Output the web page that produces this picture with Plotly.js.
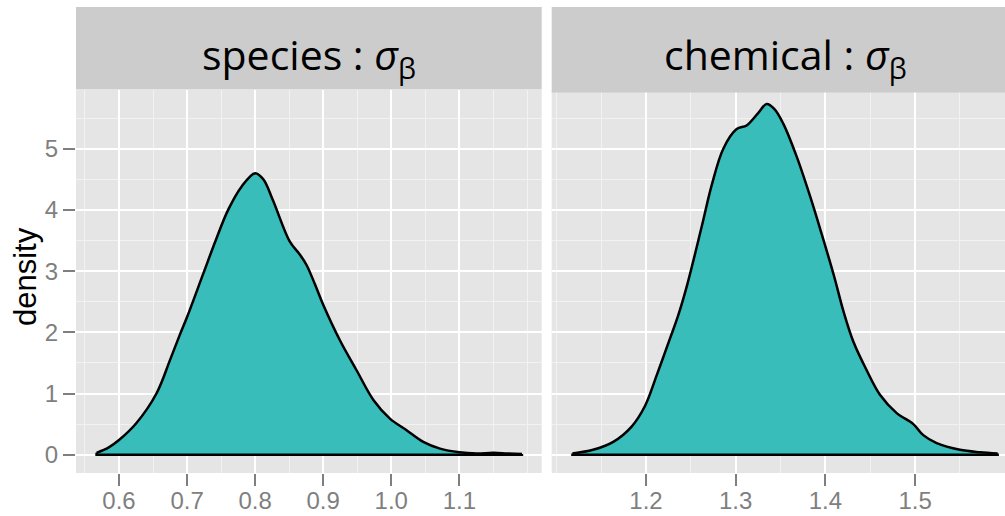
<!DOCTYPE html>
<html>
<head>
<meta charset="utf-8">
<script src="https://cdn.plot.ly/plotly-3.0.1.min.js"></script>
<style>html,body{margin:0;padding:0;background:#fff}</style>
</head>
<body>
<div id="chart" style="width:1005px;height:516px"></div>
<script>
// species : sigma_beta density
const speciesX = [0.567, 0.585, 0.600, 0.625, 0.655, 0.675, 0.689, 0.700, 0.7235, 0.742, 0.7603, 0.780, 0.800, 0.812, 0.826, 0.851, 0.865, 0.8755, 0.888, 0.900, 0.9245, 0.949, 0.974, 0.998, 1.0225, 1.047, 1.0716, 1.100, 1.125, 1.150, 1.170, 1.192];
const speciesY = [0.03, 0.12, 0.24, 0.51, 1.00, 1.55, 1.95, 2.25, 2.95, 3.50, 4.00, 4.38, 4.60, 4.50, 4.16, 3.48, 3.28, 3.10, 2.78, 2.45, 1.87, 1.38, 0.89, 0.59, 0.40, 0.21, 0.10, 0.04, 0.02, 0.03, 0.02, 0.01];
// chemical : sigma_beta density
const chemicalX = [1.118, 1.141, 1.1635, 1.184, 1.199, 1.212, 1.2268, 1.236, 1.246, 1.262, 1.2732, 1.2862, 1.3011, 1.3122, 1.325, 1.3345, 1.343, 1.353, 1.368, 1.383, 1.396, 1.410, 1.420, 1.4311, 1.446, 1.4608, 1.4795, 1.498, 1.5091, 1.524, 1.550, 1.5724, 1.592];
const chemicalY = [0.02, 0.08, 0.21, 0.46, 0.80, 1.30, 1.90, 2.28, 2.78, 3.72, 4.40, 5.00, 5.32, 5.38, 5.58, 5.73, 5.65, 5.41, 4.87, 4.22, 3.60, 2.90, 2.35, 1.85, 1.38, 0.98, 0.68, 0.50, 0.32, 0.19, 0.08, 0.04, 0.02];

const panelTitles = ['species : <i>σ</i><sub>β</sub>', 'chemical : <i>σ</i><sub>β</sub>'];
const yTickVals = [0, 1, 2, 3, 4, 5];
const speciesTickVals = [0.6, 0.7, 0.8, 0.9, 1.0, 1.1];
const speciesTickText = ['0.6', '0.7', '0.8', '0.9', '1.0', '1.1'];
const chemicalTickVals = [1.2, 1.3, 1.4, 1.5];
const chemicalTickText = ['1.2', '1.3', '1.4', '1.5'];

const fillColor = '#38BDBA';

function densityTraces(xs, ys, xa, ya) {
  const n = xs.length;
  return [
    {x: xs, y: ys, xaxis: xa, yaxis: ya, type: 'scatter', mode: 'lines', fill: 'tozeroy', fillcolor: fillColor,
     line: {color: '#000', width: 2.5, shape: 'spline', smoothing: 1}, hoverinfo: 'skip', showlegend: false},
    {x: [xs[0], xs[0], xs[n - 1], xs[n - 1]], y: [ys[0], 0, 0, ys[n - 1]], xaxis: xa, yaxis: ya,
     type: 'scatter', mode: 'lines', line: {color: '#000', width: 2.5}, hoverinfo: 'skip', showlegend: false}
  ];
}

const traces = densityTraces(speciesX, speciesY, 'x', 'y').concat(densityTraces(chemicalX, chemicalY, 'x2', 'y2'));

const W = 1005, H = 516, ML = 76, MR = 0, MT = 90, MB = 43;
const PW = W - ML - MR, PH = H - MT - MB;
const px2x = p => (p - ML) / PW;
const px2y = p => (H - MB - p) / PH;

const tickFont = {family: 'Liberation Sans, Arial, sans-serif', size: 24, color: '#7F7F7F'};
const minorGrid = {dtick: 0.05, tick0: 0, showgrid: true, gridcolor: '#F2F2F2', gridwidth: 1, ticklen: 0};

const baseX = {
  tickmode: 'array', showgrid: true, gridcolor: '#FFFFFF', gridwidth: 2, zeroline: false,
  ticks: 'outside', ticklen: 12, tickwidth: 2, tickcolor: '#7F7F7F', tickfont: tickFont,
  ticklabelstandoff: -6,
  showline: false, fixedrange: true
};

const layout = {
  width: W, height: H,
  margin: {l: ML, r: MR, t: MT, b: MB, pad: 0},
  paper_bgcolor: '#FFFFFF', plot_bgcolor: '#E5E5E5',
  showlegend: false,
  xaxis: Object.assign({}, baseX, {
    domain: [0, px2x(541.7)], range: [0.5368, 1.221],
    tickvals: speciesTickVals, ticktext: speciesTickText,
    minor: minorGrid, anchor: 'y'
  }),
  xaxis2: Object.assign({}, baseX, {
    domain: [px2x(551.7), 1], range: [1.0949, 1.6002],
    tickvals: chemicalTickVals, ticktext: chemicalTickText,
    minor: minorGrid, anchor: 'y2'
  }),
  yaxis: {
    domain: [0, 1], range: [-0.299, 5.959], tickmode: 'array', tickvals: yTickVals,
    showgrid: true, gridcolor: '#FFFFFF', gridwidth: 2, zeroline: false,
    minor: {dtick: 0.5, tick0: 0, showgrid: true, gridcolor: '#F2F2F2', gridwidth: 1, ticklen: 0},
    ticks: 'outside', ticklen: 12, tickwidth: 2, tickcolor: '#7F7F7F', tickfont: tickFont,
    anchor: 'x', fixedrange: true
  },
  yaxis2: {
    domain: [0, 1], range: [-0.299, 5.959], tickmode: 'array', tickvals: yTickVals,
    showgrid: true, gridcolor: '#FFFFFF', gridwidth: 2, zeroline: false,
    minor: {dtick: 0.5, tick0: 0, showgrid: true, gridcolor: '#F2F2F2', gridwidth: 1, ticklen: 0},
    ticks: '', showticklabels: false, anchor: 'x2', fixedrange: true
  },
  shapes: [
    {type: 'rect', xref: 'paper', yref: 'paper', x0: 0, x1: px2x(541.7), y0: px2y(89.5), y1: px2y(7),
     fillcolor: '#CCCCCC', line: {width: 0}, layer: 'above'},
    {type: 'rect', xref: 'paper', yref: 'paper', x0: px2x(551.7), x1: 1, y0: px2y(92.5), y1: px2y(7),
     fillcolor: '#CCCCCC', line: {width: 0}, layer: 'above'}
  ],
  annotations: [
    {text: panelTitles[0], xref: 'paper', yref: 'paper', x: px2x(308.8), y: px2y(56), xanchor: 'center', yanchor: 'middle',
     showarrow: false, font: {family: 'Open Sans, sans-serif', size: 41, color: '#000'}},
    {text: panelTitles[1], xref: 'paper', yref: 'paper', x: px2x(785), y: px2y(56), xanchor: 'center', yanchor: 'middle',
     showarrow: false, font: {family: 'Open Sans, sans-serif', size: 41, color: '#000'}},
    {text: 'density', xref: 'paper', yref: 'paper', x: px2x(25), y: px2y(277), xanchor: 'center', yanchor: 'middle',
     textangle: -90, showarrow: false, font: {family: 'Liberation Sans, Arial, sans-serif', size: 31, color: '#000'}}
  ]
};

Plotly.newPlot('chart', traces, layout, {displayModeBar: false, staticPlot: true});
</script>
</body>
</html>
